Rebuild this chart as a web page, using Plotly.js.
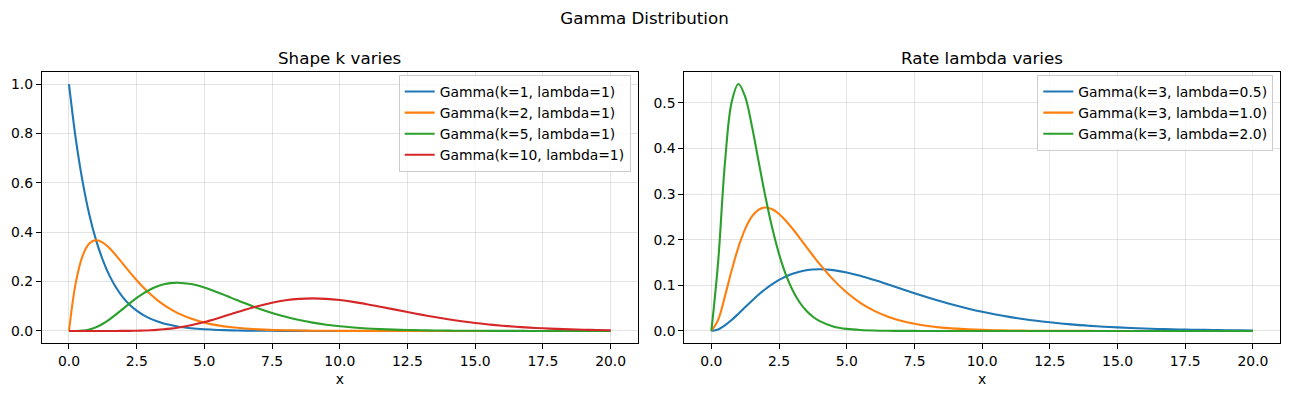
<!DOCTYPE html>
<html>
<head>
<meta charset="utf-8">
<script src="https://cdn.plot.ly/plotly-3.0.1.min.js"></script>
<style>html,body{margin:0;padding:0;background:#fff;}#chart{width:1289px;height:396px;}</style>
</head>
<body>
<div id="chart"></div>
<script>
// x positions of the sampled curve points
const xVals = [0,0.25,0.5,0.75,1,1.25,1.5,1.75,2,2.25,2.5,2.75,3,3.25,3.5,3.75,4,
  4.5,5,5.5,6,6.5,7,7.5,8,8.5,9,9.5,10,10.5,11,11.5,12,12.5,13,13.5,14,14.5,15,15.5,16,16.5,17,17.5,18,18.5,19,19.5,20];

// Left panel: shape k varies (lambda = 1)
const shapeK1 = [1,0.779,0.607,0.472,0.368,0.287,0.223,0.174,0.135,0.105,0.082,0.064,0.050,0.039,0.030,0.024,0.018,
  0.011,0.0067,0.0041,0.0025,0.0015,0.0009,0.0006,0.0003,0.0002,0.0001,0.0001,0,0,0,0,0,0,0,0,0,0,0,0,0,0,0,0,0,0,0,0,0];
const shapeK2 = [0,0.1947,0.3033,0.3543,0.3679,0.3581,0.3347,0.3041,0.2707,0.2371,0.2052,0.1758,0.1494,0.1260,0.1057,0.0882,0.0733,
  0.0500,0.0337,0.0225,0.0149,0.0098,0.0064,0.0041,0.0027,0.0017,0.0011,0.0007,0.0005,0.0003,0.0002,0.0001,0.0001,0,0,0,0,0,0,0,0,0,0,0,0,0,0,0,0];
const shapeK5 = [0,0.0001,0.0016,0.0062,0.0153,0.0292,0.0471,0.0679,0.0902,0.1126,0.1336,0.1523,0.1680,0.1803,0.1888,0.1938,0.1954,
  0.1898,0.1755,0.1558,0.1339,0.1118,0.0912,0.0729,0.0573,0.0443,0.0337,0.0254,0.0189,0.0140,0.0102,0.0074,0.0053,0.0038,0.0027,0.0019,0.0013,0.0009,0.0007,0.0005,0.0003,0.0002,0.0001,0.0001,0.0001,0,0,0,0];
const shapeK10 = [0,0,0,0,0,0,0,0.0001,0.0002,0.0004,0.0009,0.0016,0.0027,0.0043,0.0066,0.0095,0.0132,
  0.0232,0.0363,0.0519,0.0688,0.0858,0.1014,0.1144,0.1241,0.1299,0.1318,0.1300,0.1251,0.1177,0.1085,0.0982,0.0874,0.0765,0.0661,0.0563,0.0473,0.0394,0.0324,0.0264,0.0213,0.0171,0.0135,0.0107,0.0083,0.0065,0.0050,0.0038,0.0029];

// Right panel: rate lambda varies (k = 3)
const rate05 = [0,0.0034,0.0122,0.0242,0.0379,0.0523,0.0664,0.0798,0.0920,0.1027,0.1119,0.1195,0.1255,0.1300,0.1330,0.1348,0.1353,
  0.1334,0.1283,0.1209,0.1120,0.1024,0.0925,0.0827,0.0733,0.0644,0.0562,0.0488,0.0421,0.0362,0.0309,0.0263,0.0223,0.0189,0.0159,0.0133,0.0112,0.0093,0.0078,0.0065,0.0054,0.0044,0.0037,0.0030,0.0025,0.0021,0.0017,0.0014,0.0011];
const rate10 = [0,0.0243,0.0758,0.1329,0.1839,0.2238,0.2510,0.2661,0.2707,0.2668,0.2565,0.2417,0.2240,0.2048,0.1850,0.1654,0.1465,
  0.1125,0.0842,0.0618,0.0446,0.0318,0.0223,0.0156,0.0107,0.0074,0.0050,0.0034,0.0023,0.0015,0.0010,0.0007,0.0004,0.0003,0.0002,0.0001,0.0001,0,0,0,0,0,0,0,0,0,0,0,0];
const rate20 = [0,0.1516,0.3679,0.5020,0.5413,0.5130,0.4481,0.3699,0.2931,0.2250,0.1685,0.1236,0.0892,0.0635,0.0447,0.0311,0.0215,
  0.0100,0.0045,0.0020,0.0009,0.0004,0.0002,0.0001,0,0,0,0,0,0,0,0,0,0,0,0,0,0,0,0,0,0,0,0,0,0,0,0,0];

const leftNames = ['Gamma(k=1, lambda=1)','Gamma(k=2, lambda=1)','Gamma(k=5, lambda=1)','Gamma(k=10, lambda=1)'];
const rightNames = ['Gamma(k=3, lambda=0.5)','Gamma(k=3, lambda=1.0)','Gamma(k=3, lambda=2.0)'];
const colors = ['#1f77b4','#ff7f0e','#2ca02c','#d62728'];
const xTicks = [0,2.5,5,7.5,10,12.5,15,17.5,20];
const yTicksLeft = [0,0.2,0.4,0.6,0.8,1.0];
const yTicksRight = [0,0.1,0.2,0.3,0.4,0.5];

const FONT = 'DejaVu Sans, Verdana, sans-serif';
const traces = [];
[shapeK1, shapeK2, shapeK5, shapeK10].forEach((ys, i) => {
  traces.push({x: xVals, y: ys, name: leftNames[i], type: 'scatter', mode: 'lines',
    line: {color: colors[i], width: 2.1, shape: 'spline', smoothing: 1},
    xaxis: 'x', yaxis: 'y', legend: 'legend'});
});
[rate05, rate10, rate20].forEach((ys, i) => {
  traces.push({x: xVals, y: ys, name: rightNames[i], type: 'scatter', mode: 'lines',
    line: {color: colors[i], width: 2.1, shape: 'spline', smoothing: 1},
    xaxis: 'x2', yaxis: 'y2', legend: 'legend2'});
});

function axisBase(extra) {
  return Object.assign({
    showline: true, mirror: true, linecolor: '#000', linewidth: 1.1,
    ticks: 'outside', ticklen: 5, tickwidth: 1.1, tickcolor: '#000',
    showgrid: true, gridcolor: 'rgba(176,176,176,0.35)', gridwidth: 1,
    zeroline: false, automargin: false,
    tickfont: {family: FONT, size: 13.9, color: '#000'},
    tickformat: '.1f', tickmode: 'array'
  }, extra);
}

const yTop = 1 - 71.7/396, yBot = 1 - 343.3/396;
const layout = {
  width: 1289, height: 396,
  margin: {l: 0, r: 0, t: 0, b: 0},
  paper_bgcolor: '#fff', plot_bgcolor: '#fff',
  font: {family: FONT, color: '#000'},
  title: {text: 'Gamma Distribution', x: 0.5, xanchor: 'center', y: 1 - 18/396, yanchor: 'middle',
    yref: 'container', font: {family: FONT, size: 16.7, color: '#000'}},
  showlegend: true,
  xaxis: axisBase({domain: [41.9/1289, 637.7/1289], range: [-1, 21], tickvals: xTicks, anchor: 'y',
    title: {text: 'x', font: {family: FONT, size: 13.9, color: '#000'}, standoff: 6}}),
  yaxis: axisBase({domain: [yBot, yTop], range: [-0.05, 1.05], tickvals: yTicksLeft, anchor: 'x'}),
  xaxis2: axisBase({domain: [684.3/1289, 1280/1289], range: [-1, 21], tickvals: xTicks, anchor: 'y2',
    title: {text: 'x', font: {family: FONT, size: 13.9, color: '#000'}, standoff: 6}}),
  yaxis2: axisBase({domain: [yBot, yTop], range: [-0.02707, 0.5684], tickvals: yTicksRight, anchor: 'x2'}),
  legend: {x: 630.7/1289, xanchor: 'right', y: 1 - 75/396, yanchor: 'top',
    bgcolor: 'rgba(255,255,255,0.8)', bordercolor: '#cccccc', borderwidth: 1,
    font: {family: FONT, size: 13.9, color: '#000'}, itemwidth: 30},
  legend2: {x: 1273.3/1289, xanchor: 'right', y: 1 - 75/396, yanchor: 'top',
    bgcolor: 'rgba(255,255,255,0.8)', bordercolor: '#cccccc', borderwidth: 1,
    font: {family: FONT, size: 13.9, color: '#000'}, itemwidth: 30},
  annotations: [
    {text: 'Shape k varies', xref: 'paper', yref: 'paper', x: (41.9 + 637.7)/2/1289, y: 1 - 58/396,
      xanchor: 'center', yanchor: 'middle', showarrow: false, font: {family: FONT, size: 16.7, color: '#000'}},
    {text: 'Rate lambda varies', xref: 'paper', yref: 'paper', x: (684.3 + 1280)/2/1289, y: 1 - 58/396,
      xanchor: 'center', yanchor: 'middle', showarrow: false, font: {family: FONT, size: 16.7, color: '#000'}}
  ]
};

Plotly.newPlot('chart', traces, layout, {displayModeBar: false, responsive: false});
</script>
</body>
</html>
